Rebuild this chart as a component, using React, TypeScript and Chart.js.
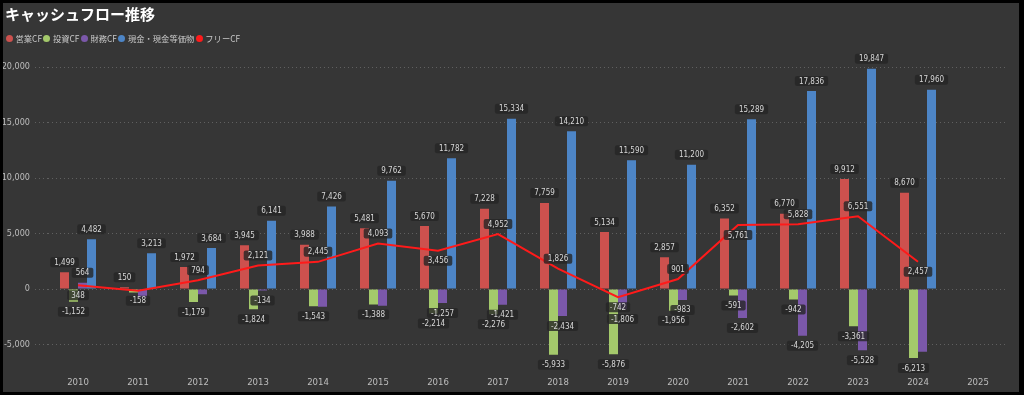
import React, { useEffect, useRef } from "react";
import { Chart, registerables } from "chart.js";

Chart.register(...registerables);

// ---- data ----
const years = ["2010", "2011", "2012", "2013", "2014", "2015", "2016", "2017", "2018", "2019", "2020", "2021", "2022", "2023", "2024", "2025"];
const operatingCF = [1499, 150, 1972, 3945, 3988, 5481, 5670, 7228, 7759, 5134, 2857, 6352, 6770, 9912, 8670, null];
const investingCF = [-1152, -308, -1179, -1824, -1543, -1388, -2214, -2276, -5933, -5876, -1956, -591, -942, -3361, -6213, null];
const financingCF = [564, -819, -480, -134, -1600, -1500, -1257, -1421, -2434, -1806, -983, -2602, -4205, -5528, -5650, null];
const cashEquivalents = [4482, 3213, 3684, 6141, 7426, 9762, 11782, 15334, 14210, 11590, 11200, 15289, 17836, 19847, 17960, null];
const freeCF = [348, -158, 794, 2121, 2445, 4093, 3456, 4952, 1826, -742, 901, 5761, 5828, 6551, 2457, null];
const yTicks = [-5000, 0, 5000, 10000, 15000, 20000];
const seriesNames = ["営業CF", "投資CF", "財務CF", "現金・現金等価物", "フリーCF"];

// ---- style ----
const COLORS = ["#CD514E", "#A4C96B", "#7B58AA", "#4D85C6", "#FF1A1A"];
const NUM_FONT = "'Liberation Sans Narrow', 'DejaVu Sans Condensed', Roboto, sans-serif";
const JP_FONT = "'Noto Sans CJK JP', 'Noto Sans', sans-serif";
const PANEL_W = 1016;
const PANEL_H = 389;
const Y_MIN = -7500;
const Y_MAX = 21500;

const fmt = (v: number) => v.toLocaleString("en-US");

type Rect = { l: number; r: number; t: number; b: number };

const valueLabelPlugin = {
  id: "valueLabels",
  afterDatasetsDraw(chart: any) {
    const ctx = chart.ctx as CanvasRenderingContext2D;
    ctx.save();
    ctx.font = `8px ${NUM_FONT}`;
    ctx.textAlign = "center";
    ctx.textBaseline = "middle";
    const boxH = 10;
    const off = 10;
    const padX = 4;
    const placed: Rect[] = [];
    const items: { text: string; x: number; y: number; w: number }[] = [];
    const hit = (a: Rect, b: Rect) => a.l < b.r - 1 && a.r > b.l + 1 && a.t < b.b - 1 && a.b > b.t + 1;
    const tryPlace = (text: string, x: number, y: number) => {
      const w = ctx.measureText(text).width + padX * 2;
      const rect = { l: x - w / 2, r: x + w / 2, t: y - boxH / 2, b: y + boxH / 2 };
      if (placed.some((p) => hit(p, rect))) return false;
      placed.push(rect);
      items.push({ text, x, y, w });
      return true;
    };
    const datasets = chart.data.datasets;
    const barIdx: number[] = [];
    let lineIdx = -1;
    datasets.forEach((d: any, i: number) => {
      if (d.type === "line") lineIdx = i;
      else barIdx.push(i);
    });
    const n = chart.data.labels.length;
    const placeBars = (i: number, positive: boolean) => {
      for (const di of barIdx) {
        const v = datasets[di].data[i];
        if (v == null || (v >= 0) !== positive) continue;
        const el = chart.getDatasetMeta(di).data[i];
        const y = v >= 0 ? el.y - off : el.y + off;
        tryPlace(fmt(v), el.x, y);
      }
    };
    for (let i = 0; i < n; i++) {
      placeBars(i, true);
      if (lineIdx >= 0) {
        const data = datasets[lineIdx].data;
        const v = data[i];
        if (v != null) {
          const pt = chart.getDatasetMeta(lineIdx).data[i];
          const nb = [data[i - 1], data[i + 1]].filter((x: any) => x != null);
          const isMin = nb.length > 0 && nb.every((x: number) => x > v);
          const dirs = isMin ? [1, -1] : [-1, 1];
          for (const d of dirs) {
            if (tryPlace(fmt(v), pt.x, pt.y + d * off)) break;
          }
        }
      }
      placeBars(i, false);
    }
    for (const it of items) {
      ctx.beginPath();
      ctx.fillStyle = "rgba(38,38,38,0.8)";
      (ctx as any).roundRect(it.x - it.w / 2, it.y - boxH / 2, it.w, boxH, 2);
      ctx.fill();
      ctx.fillStyle = "#d8d8d8";
      ctx.fillText(it.text, it.x, it.y + 0.5);
    }
    ctx.restore();
  },
};

export default function App() {
  const canvasRef = useRef<HTMLCanvasElement | null>(null);

  useEffect(() => {
    document.body.style.margin = "0";
    document.body.style.background = "#000";
    const canvas = canvasRef.current;
    if (!canvas) return;
    const barSeries = [operatingCF, investingCF, financingCF, cashEquivalents];
    const chart = new Chart(canvas, {
      type: "bar",
      data: {
        labels: years,
        datasets: [
          ...barSeries.map((d, i) => ({
            type: "bar" as const,
            label: seriesNames[i],
            data: d,
            backgroundColor: COLORS[i],
            borderWidth: 0,
            categoryPercentage: 0.6,
            barPercentage: 1,
            order: 1,
          })),
          {
            type: "line" as const,
            label: seriesNames[4],
            data: freeCF,
            borderColor: COLORS[4],
            backgroundColor: COLORS[4],
            borderWidth: 2,
            pointRadius: 0,
            tension: 0,
            order: 0,
          },
        ],
      } as any,
      options: {
        animation: false,
        responsive: false,
        devicePixelRatio: 1,
        layout: { padding: { top: 47.35, right: 11, left: 0, bottom: 0 } },
        plugins: { legend: { display: false }, tooltip: { enabled: false }, title: { display: false } },
        scales: {
          x: {
            offset: true,
            grid: { display: false, drawTicks: false },
            border: { display: false },
            ticks: { color: "#bdbdbd", font: { size: 9.5, family: NUM_FONT }, padding: 5 },
            afterFit: (axis: any) => {
              axis.height = PANEL_H - 369.25;
            },
          },
          y: {
            min: Y_MIN,
            max: Y_MAX,
            afterBuildTicks: (axis: any) => {
              axis.ticks = yTicks.map((v) => ({ value: v }));
            },
            afterFit: (axis: any) => {
              axis.width = 45;
            },
            grid: {
              color: "#606060",
              lineWidth: 1,
              tickLength: 13,
              tickColor: "#606060",
              tickBorderDash: [1, 3],
            } as any,
            border: { display: false, dash: [1, 3] },
            ticks: {
              color: "#bdbdbd",
              font: { size: 9, family: NUM_FONT },
              padding: 5,
              callback: (v: any) => fmt(Number(v)),
            },
          },
        },
      } as any,
      plugins: [valueLabelPlugin],
    });
    return () => chart.destroy();
  }, []);

  return (
    <div style={{ position: "fixed", left: 0, top: 0, width: 1024, height: 395, background: "#000" }}>
      <div style={{ position: "absolute", left: 3, top: 3, width: PANEL_W, height: PANEL_H, background: "#363636" }}>
        <canvas ref={canvasRef} width={PANEL_W} height={PANEL_H} style={{ position: "absolute", left: 0, top: 0, width: PANEL_W, height: PANEL_H }} />
        <div style={{ position: "absolute", left: 2, top: 1, color: "#ffffff", fontFamily: JP_FONT, fontSize: 15, fontWeight: 600, lineHeight: "20px", whiteSpace: "nowrap" }}>
          キャッシュフロー推移
        </div>
        <div style={{ position: "absolute", left: 3, top: 30, display: "flex", alignItems: "center", fontFamily: JP_FONT, fontSize: 8.3, lineHeight: "10px", color: "#c8c8c8", whiteSpace: "nowrap" }}>
          {seriesNames.map((name, i) => (
            <div key={name} style={{ display: "flex", alignItems: "center", marginRight: 1.5 }}>
              <span style={{ display: "inline-block", width: 7, height: 7, borderRadius: "50%", background: COLORS[i], marginRight: 2.5 }} />
              <span>{name}</span>
            </div>
          ))}
        </div>
      </div>
    </div>
  );
}
